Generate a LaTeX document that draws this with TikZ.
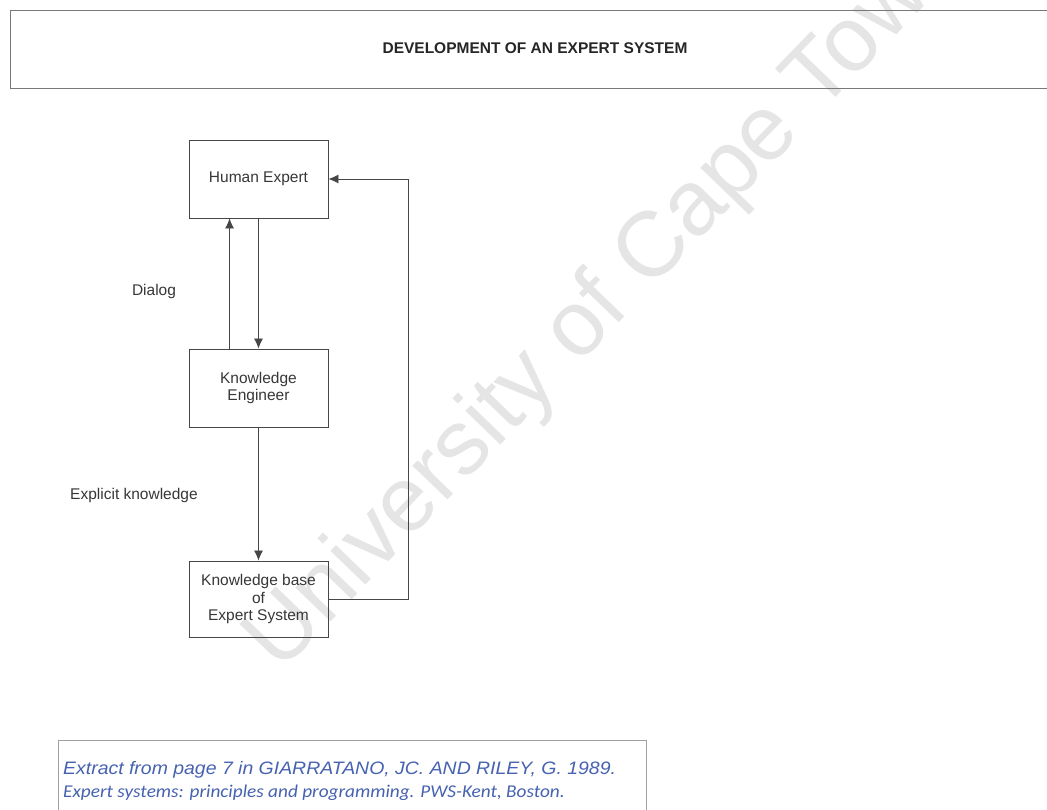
\documentclass[tikz,border=0pt]{standalone}
\usepackage{fontspec}
\setmainfont{Liberation Sans}
\newfontfamily\citesans[FakeStretch=1.08]{Liberation Sans}
\newfontfamily\citefont[FakeStretch=1.07]{Carlito}
\usetikzlibrary{arrows.meta}

\definecolor{inkline}{RGB}{70,70,70}
\definecolor{inktext}{RGB}{55,55,55}
\definecolor{citeblue}{RGB}{70,98,176}
\definecolor{stampgray}{RGB}{229,229,229}
\definecolor{frame}{RGB}{120,120,120}

\tikzset{
  flowbox/.style={draw=inkline, line width=0.9pt, minimum width=139pt, minimum height=78pt,
    inner sep=0pt, align=center, text=inktext, font=\fontsize{15.5}{17.8}\selectfont},
  flowlabel/.style={text=inktext, inner sep=0pt, font=\fontsize{15.5}{17.8}\selectfont},
  arr/.style={draw=inkline, line width=0.8pt, -{Latex[length=10pt,width=9pt]}},
  link/.style={draw=inkline, line width=0.8pt},
}

\begin{document}
\begin{tikzpicture}[x=1pt, y=-1pt]
  \useasboundingbox[fill=white] (0,0) rectangle (1047,810);

  % library stamp across the sheet
  \node[anchor=base west, rotate=46, text=stampgray, inner sep=0pt,
        font=\fontsize{92}{92}\selectfont] (stamp) at (280,674) {University of Cape Town};

  % heading frame (open to the right)
  \draw[frame, line width=0.9pt] (1047,10) -- (10,10) -- (10,88) -- (1047,88);
  \node[text=black!85, font=\fontsize{15.5}{18}\selectfont\bfseries, inner sep=0pt] (title) at (535,48)
    {DEVELOPMENT OF AN EXPERT SYSTEM};

  % the three stages
  \node[flowbox] (he) at (258.5,179) {\raisebox{-1.5pt}{Human Expert}};
  \node[flowbox] (ke) at (258.5,388) {Knowledge\\Engineer};
  \node[flowbox, minimum height=76pt] (kb) at (258.5,599) {Knowledge base\\of\\Expert System};

  \node[flowlabel] (dialog) at (154,291) {Dialog};
  \node[flowlabel] (explicit) at (134,495) {Explicit knowledge};

  % dialog between expert and engineer
  \draw[arr] ([xshift=41pt]ke.north west) -- ([xshift=41pt]he.south west);
  \draw[arr] (he.south) -- (ke.north);
  % engineer writes the knowledge base
  \draw[arr] (ke.south) -- (kb.north);
  % feedback from the knowledge base to the expert
  \coordinate (loop) at (408,179);
  \draw[link] (kb.east) -| (loop);
  \draw[arr] (loop) -- (he.east);

  % source note
  \draw[frame!70, line width=0.9pt] (58,815) -- (58,740) -- (646,740) -- (646,815);
  \node[anchor=base west, inner sep=0pt, text=citeblue, font=\citesans\fontsize{18}{20}\selectfont\itshape] (src1) at (63,774)
    {Extract from page 7 in GIARRATANO, JC. AND RILEY, G. 1989.};
  \node[anchor=base west, inner sep=0pt, text=citeblue, font=\citefont\fontsize{18}{20}\selectfont\itshape] (src2) at (63,797)
    {Expert systems: principles and programming. PWS-Kent, Boston.};
\end{tikzpicture}
\end{document}
